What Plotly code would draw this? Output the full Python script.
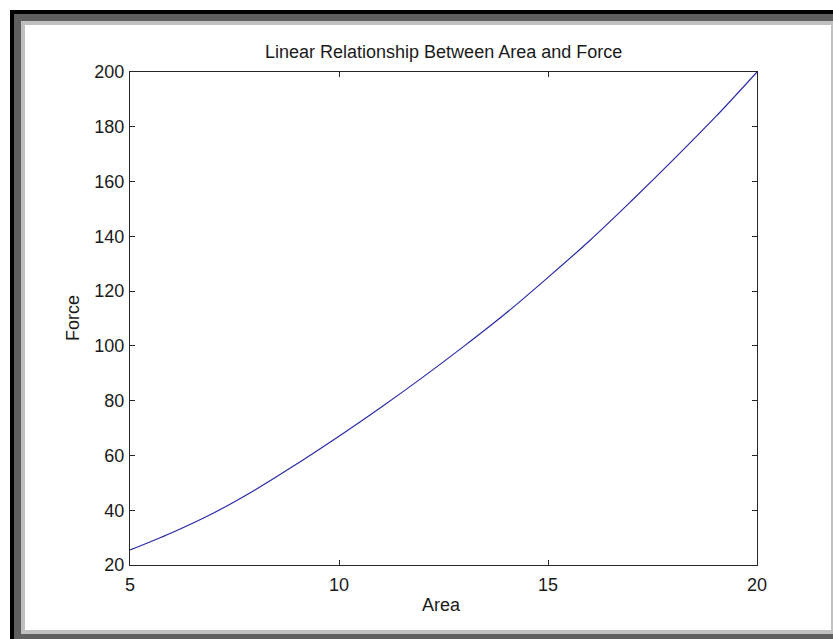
import plotly.graph_objects as go

# Data
area = [5, 6, 7, 8, 9, 10, 11, 12, 13, 14, 15, 16, 17, 18, 19, 20]
force = [25.5, 31.8, 39.0, 47.5, 57.0, 67.0, 77.5, 88.5, 100.0, 112.0,
         125.0, 138.5, 153.0, 168.0, 183.5, 200.0]
x_ticks = [5, 10, 15, 20]
y_ticks = [20, 40, 60, 80, 100, 120, 140, 160, 180, 200]

W, H = 833, 639
L, R, T, B = 130, 757, 72, 565  # plot area in pixels


def px(x):
    return (x - L) / (R - L)


def py(y):
    return (B - y) / (B - T)


FONT = "Liberation Sans, Arial, sans-serif"
TXT = "#1a1a1a"

fig = go.Figure()
fig.add_trace(go.Scatter(x=area, y=force, mode="lines",
                         line=dict(color="#2a2aa8", width=1.2, shape="spline"),
                         hoverinfo="skip", showlegend=False))

shapes = []
# outer window frame
for (x0, y0, x1, y1, c) in [(10, 10, 900, 700, "#000000"),
                            (14, 14, 900, 700, "#5f5f5f"),
                            (21, 21, 900, 634, "#c0c0c0"),
                            (25, 25, 831, 630, "#ffffff")]:
    shapes.append(dict(type="rect", xref="paper", yref="paper",
                       x0=px(x0), x1=px(x1), y0=py(y1), y1=py(y0),
                       fillcolor=c, line=dict(width=0), layer="below"))

axis_common = dict(showgrid=False, zeroline=False, showline=True,
                   linecolor="#262626", linewidth=1.2, mirror="ticks",
                   ticks="inside", ticklen=5, tickcolor="#262626",
                   tickwidth=1.2, tickfont=dict(family=FONT, size=18, color=TXT))

fig.update_layout(
    width=W, height=H,
    margin=dict(l=L, r=W - R, t=T, b=H - B, pad=0),
    paper_bgcolor="#ffffff", plot_bgcolor="rgba(0,0,0,0)",
    shapes=shapes,
    xaxis=dict(range=[5, 20], tickvals=x_ticks, ticktext=[str(v) for v in x_ticks],
               ticklabelstandoff=3, **axis_common),
    yaxis=dict(range=[20, 200], tickvals=y_ticks, ticktext=[str(v) for v in y_ticks],
               ticklabelstandoff=1, **axis_common),
    annotations=[
        dict(text="Linear Relationship Between Area and Force", xref="paper", yref="paper",
             x=0.5, y=py(52), xanchor="center", yanchor="middle", showarrow=False,
             font=dict(family=FONT, size=18, color=TXT)),
        dict(text="Area", xref="paper", yref="paper",
             x=px(441), y=py(605), xanchor="center", yanchor="middle", showarrow=False,
             font=dict(family=FONT, size=18, color=TXT)),
        dict(text="Force", xref="paper", yref="paper", textangle=-90,
             x=px(73), y=py(318), xanchor="center", yanchor="middle", showarrow=False,
             font=dict(family=FONT, size=18, color=TXT)),
    ],
)

fig.write_html("out.html")
